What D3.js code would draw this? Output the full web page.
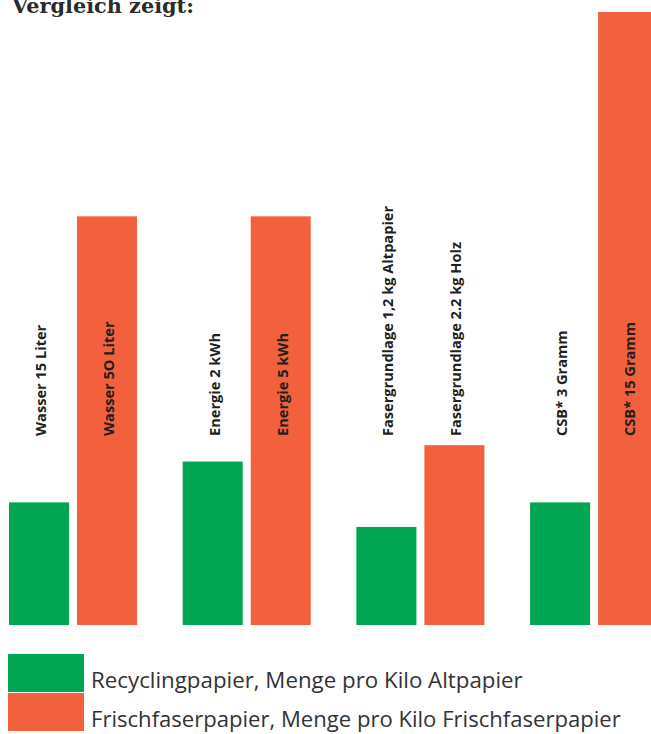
<!DOCTYPE html>
<html><head><meta charset="utf-8">
<script src="https://cdn.jsdelivr.net/npm/d3@7"></script>
<style>
html,body{margin:0;padding:0;background:#fff;}
svg{display:block;}
</style></head>
<body>
<svg id="chart" width="651" height="734"></svg>
<script>
// ---- data ----
const categories = ["Wasser", "Energie", "Fasergrundlage", "CSB"];
const seriesNames = ["Recyclingpapier, Menge pro Kilo Altpapier", "Frischfaserpapier, Menge pro Kilo Frischfaserpapier"];
const recyclingValues = [15, 2, 1.2, 3];
const frischValues = [50, 5, 2.2, 15];
// display scaling per category (units differ per category in the graphic)
const unitFactor = [1, 10, 10, 5];
const recyclingLabels = ["Wasser 15 Liter", "Energie 2 kWh", "Fasergrundlage 1,2 kg Altpapier", "CSB* 3 Gramm"];
const frischLabels = ["Wasser 5O Liter", "Energie 5 kWh", "Fasergrundlage 2.2 kg Holz", "CSB* 15 Gramm"];
const titleText = "Vergleich zeigt:";

const colors = ["#00a651", "#f2603e"];

const svg = d3.select("#chart");

// fit a text element's font-size so that its length matches a target width
function fitWidth(sel, target) {
  const n = sel.node();
  const fs = parseFloat(sel.attr("font-size"));
  const w = n.getComputedTextLength();
  sel.attr("font-size", (fs * target / w).toFixed(2));
}

const x0 = d3.scaleBand().domain(categories).range([9, 658.1]).paddingInner(0.263).paddingOuter(0);
const x1 = d3.scaleBand().domain([0, 1]).range([0, x0.bandwidth()]).paddingInner(0.1176).paddingOuter(0);
const y = d3.scaleLinear().domain([0, 75]).range([625, 12]);

// title (cut at top)
const title = svg.append("text").attr("x", 12).attr("y", 13)
  .attr("font-family", "'DejaVu Serif', serif").attr("font-weight", "bold")
  .attr("font-size", 18).attr("fill", "#2b2b2b").text(titleText);
fitWidth(title, 182);

const rows = categories.map((c, i) => ({
  cat: c,
  vals: [
    {s: 0, v: recyclingValues[i] * unitFactor[i], label: recyclingLabels[i]},
    {s: 1, v: frischValues[i] * unitFactor[i], label: frischLabels[i]}
  ]
}));

const g = svg.selectAll("g.grp").data(rows).join("g")
  .attr("class", "grp")
  .attr("transform", d => `translate(${x0(d.cat)},0)`);

g.selectAll("rect").data(d => d.vals).join("rect")
  .attr("x", d => x1(d.s)).attr("width", x1.bandwidth())
  .attr("y", d => y(d.v)).attr("height", d => y(0) - y(d.v))
  .attr("fill", d => colors[d.s]);

const labels = g.selectAll("text").data(d => d.vals).join("text")
  .attr("transform", d => `translate(${x1(d.s) + x1.bandwidth() / 2 + 7},436) rotate(-90)`)
  .attr("font-family", "'Open Sans', sans-serif").attr("font-weight", "bold")
  .attr("font-size", 14.6).attr("fill", "#231f20")
  .text(d => d.label);

// legend
const leg = svg.append("g");
const legTargets = [432, 530];
seriesNames.forEach((n, i) => {
  leg.append("rect").attr("x", 8).attr("y", 654 + i * 39).attr("width", 76).attr("height", 38).attr("fill", colors[i]);
  const t = leg.append("text").attr("x", 91).attr("y", 688 + i * 39)
    .attr("font-family", "'Open Sans', sans-serif").attr("font-size", 20)
    .attr("fill", "#333").text(n);
  fitWidth(t, legTargets[i]);
});
</script>
</body></html>
